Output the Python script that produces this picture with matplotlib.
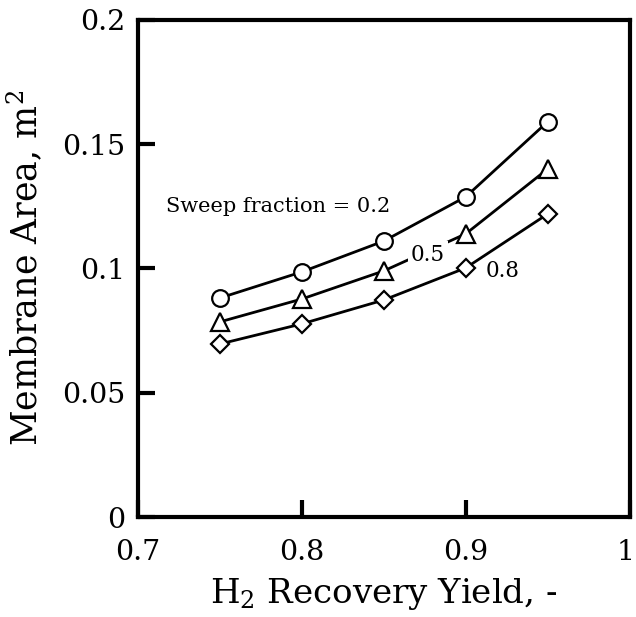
import matplotlib
matplotlib.use("Agg")
import matplotlib.pyplot as plt
import matplotlib.transforms as mtransforms
from matplotlib.ticker import FixedLocator, FixedFormatter

# Donnees
recovery = [0.75, 0.80, 0.85, 0.90, 0.95]
area_02 = [0.0881, 0.0986, 0.1110, 0.1288, 0.1590]
area_05 = [0.0785, 0.0877, 0.0990, 0.1139, 0.1400]
area_08 = [0.0696, 0.0777, 0.0873, 0.1002, 0.1219]

xticks = [0.7, 0.8, 0.9, 1.0]
xtick_labels = ["0.7", "0.8", "0.9", "1"]
yticks = [0, 0.05, 0.1, 0.15, 0.2]
ytick_labels = ["0", "0.05", "0.1", "0.15", "0.2"]

plt.rcParams['font.family'] = ['DejaVu Serif']
plt.rcParams['mathtext.fontset'] = 'dejavuserif'

fig = plt.figure(figsize=(6.36, 6.17), dpi=100)
ax = fig.add_axes([0.217, 0.162, 0.773, 0.806])

style = dict(color='black', linewidth=2, markerfacecolor='white',
             markeredgecolor='black', markeredgewidth=1.6)
ax.plot(recovery, area_02, marker='o', markersize=12, **style)
ax.plot(recovery, area_05, marker='^', markersize=13, **style)
ax.plot(recovery, area_08, marker='D', markersize=9, **style)

box = dict(facecolor='white', edgecolor='none', pad=2)
ax.text(0.717, 0.125, "Sweep fraction = 0.2", fontsize=15, va='center', ha='left')
ax.text(0.877, 0.1054, "0.5", fontsize=15.5, va='center', ha='center', bbox=box, zorder=5)
ax.text(0.9225, 0.0988, "0.8", fontsize=15.5, va='center', ha='center', bbox=box, zorder=5)

ax.set_xlim(0.7, 1.0)
ax.set_ylim(0, 0.2)
ax.xaxis.set_major_locator(FixedLocator(xticks))
ax.xaxis.set_major_formatter(FixedFormatter(xtick_labels))
ax.yaxis.set_major_locator(FixedLocator(yticks))
ax.yaxis.set_major_formatter(FixedFormatter(ytick_labels))
ax.tick_params(direction='in', length=12, width=3, labelsize=20.5)
ax.tick_params(axis='x', pad=16)
ax.tick_params(axis='y', pad=9)

for sp in ax.spines.values():
    sp.set_linewidth(3)

ax.set_xlabel(r"H$_2$ Recovery Yield, -", fontsize=24.5)
ax.xaxis.set_label_coords(0.5, -0.118)
ax.set_ylabel(r"Membrane Area, m$^2$", fontsize=25, labelpad=12)

# le "1" touche le bord droit : petit decalage vers la gauche
fig.canvas.draw()
last = ax.get_xticklabels()[-1]
last.set_transform(last.get_transform() + mtransforms.ScaledTranslation(-4 / 100, 0, fig.dpi_scale_trans))

plt.savefig("out.png", dpi=100)
